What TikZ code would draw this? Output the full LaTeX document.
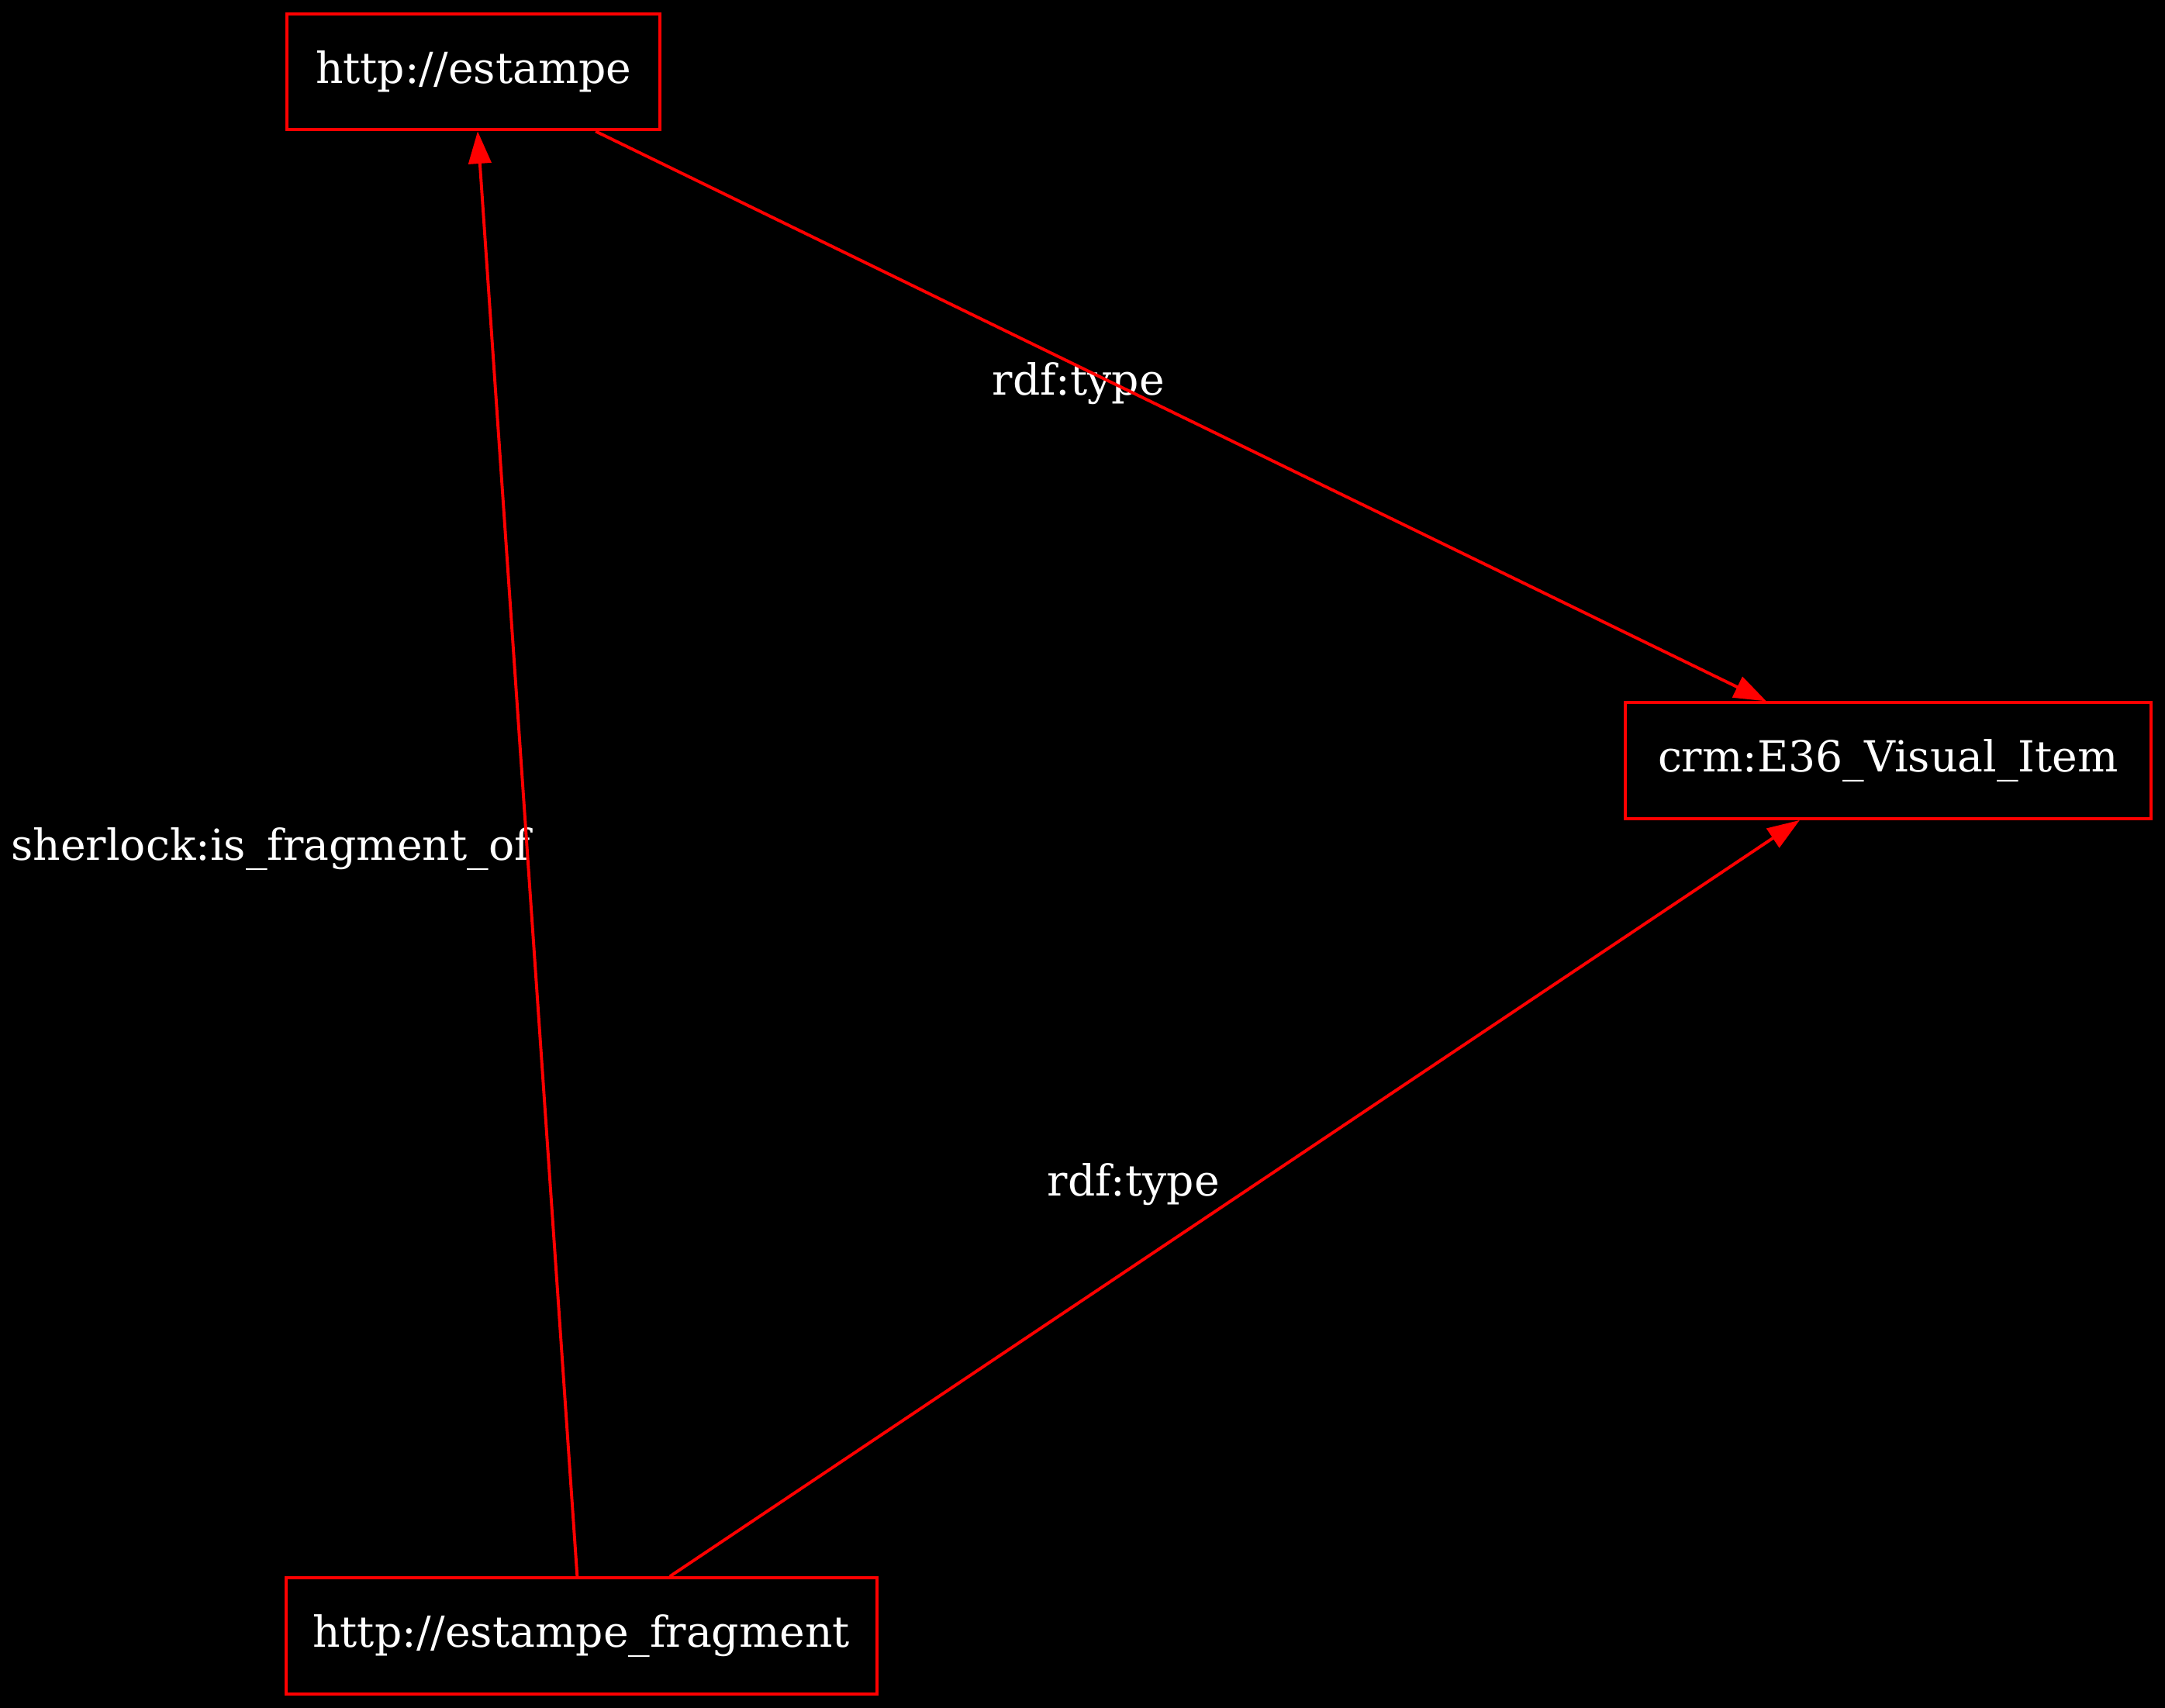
\documentclass[tikz,border=0pt]{standalone}
\usepackage{fontspec}
\setmainfont{DejaVu Serif}
\usetikzlibrary{arrows.meta}
\tikzset{->,>={Triangle[length=11.7pt,width=8.2pt]},x=0.5pt,y=-0.5pt,
  every node/.style={text=white,font=\fontsize{15.5}{18}\selectfont},
  res/.style={draw=red,line width=1.1pt,minimum height=42pt,inner sep=0pt}}

\begin{document}
\begin{tikzpicture}
              \fill[black] (0,0) rectangle (1568,1237);

              \node[res,minimum width=135pt] (estampe) at (343,52) {http://estampe};
              \node[res,minimum width=190.5pt] (visual) at (1367.5,551) {crm:E36\_Visual\_Item};
              \node[res,minimum width=214pt] (fragment) at (421,1185) {http://estampe\_fragment};

              \node[anchor=base] (typeA) at (781,286) {rdf:type};
              \node[anchor=base] (fragof) at (196,623) {sherlock:is\_fragment\_of};
              \node[anchor=base] (typeB) at (821,866) {rdf:type};

              \path[red,line width=1.1pt]
              (estampe) edge (visual)
              (fragment) edge (estampe)
                  edge (visual)
              ;
            \end{tikzpicture}
\end{document}
